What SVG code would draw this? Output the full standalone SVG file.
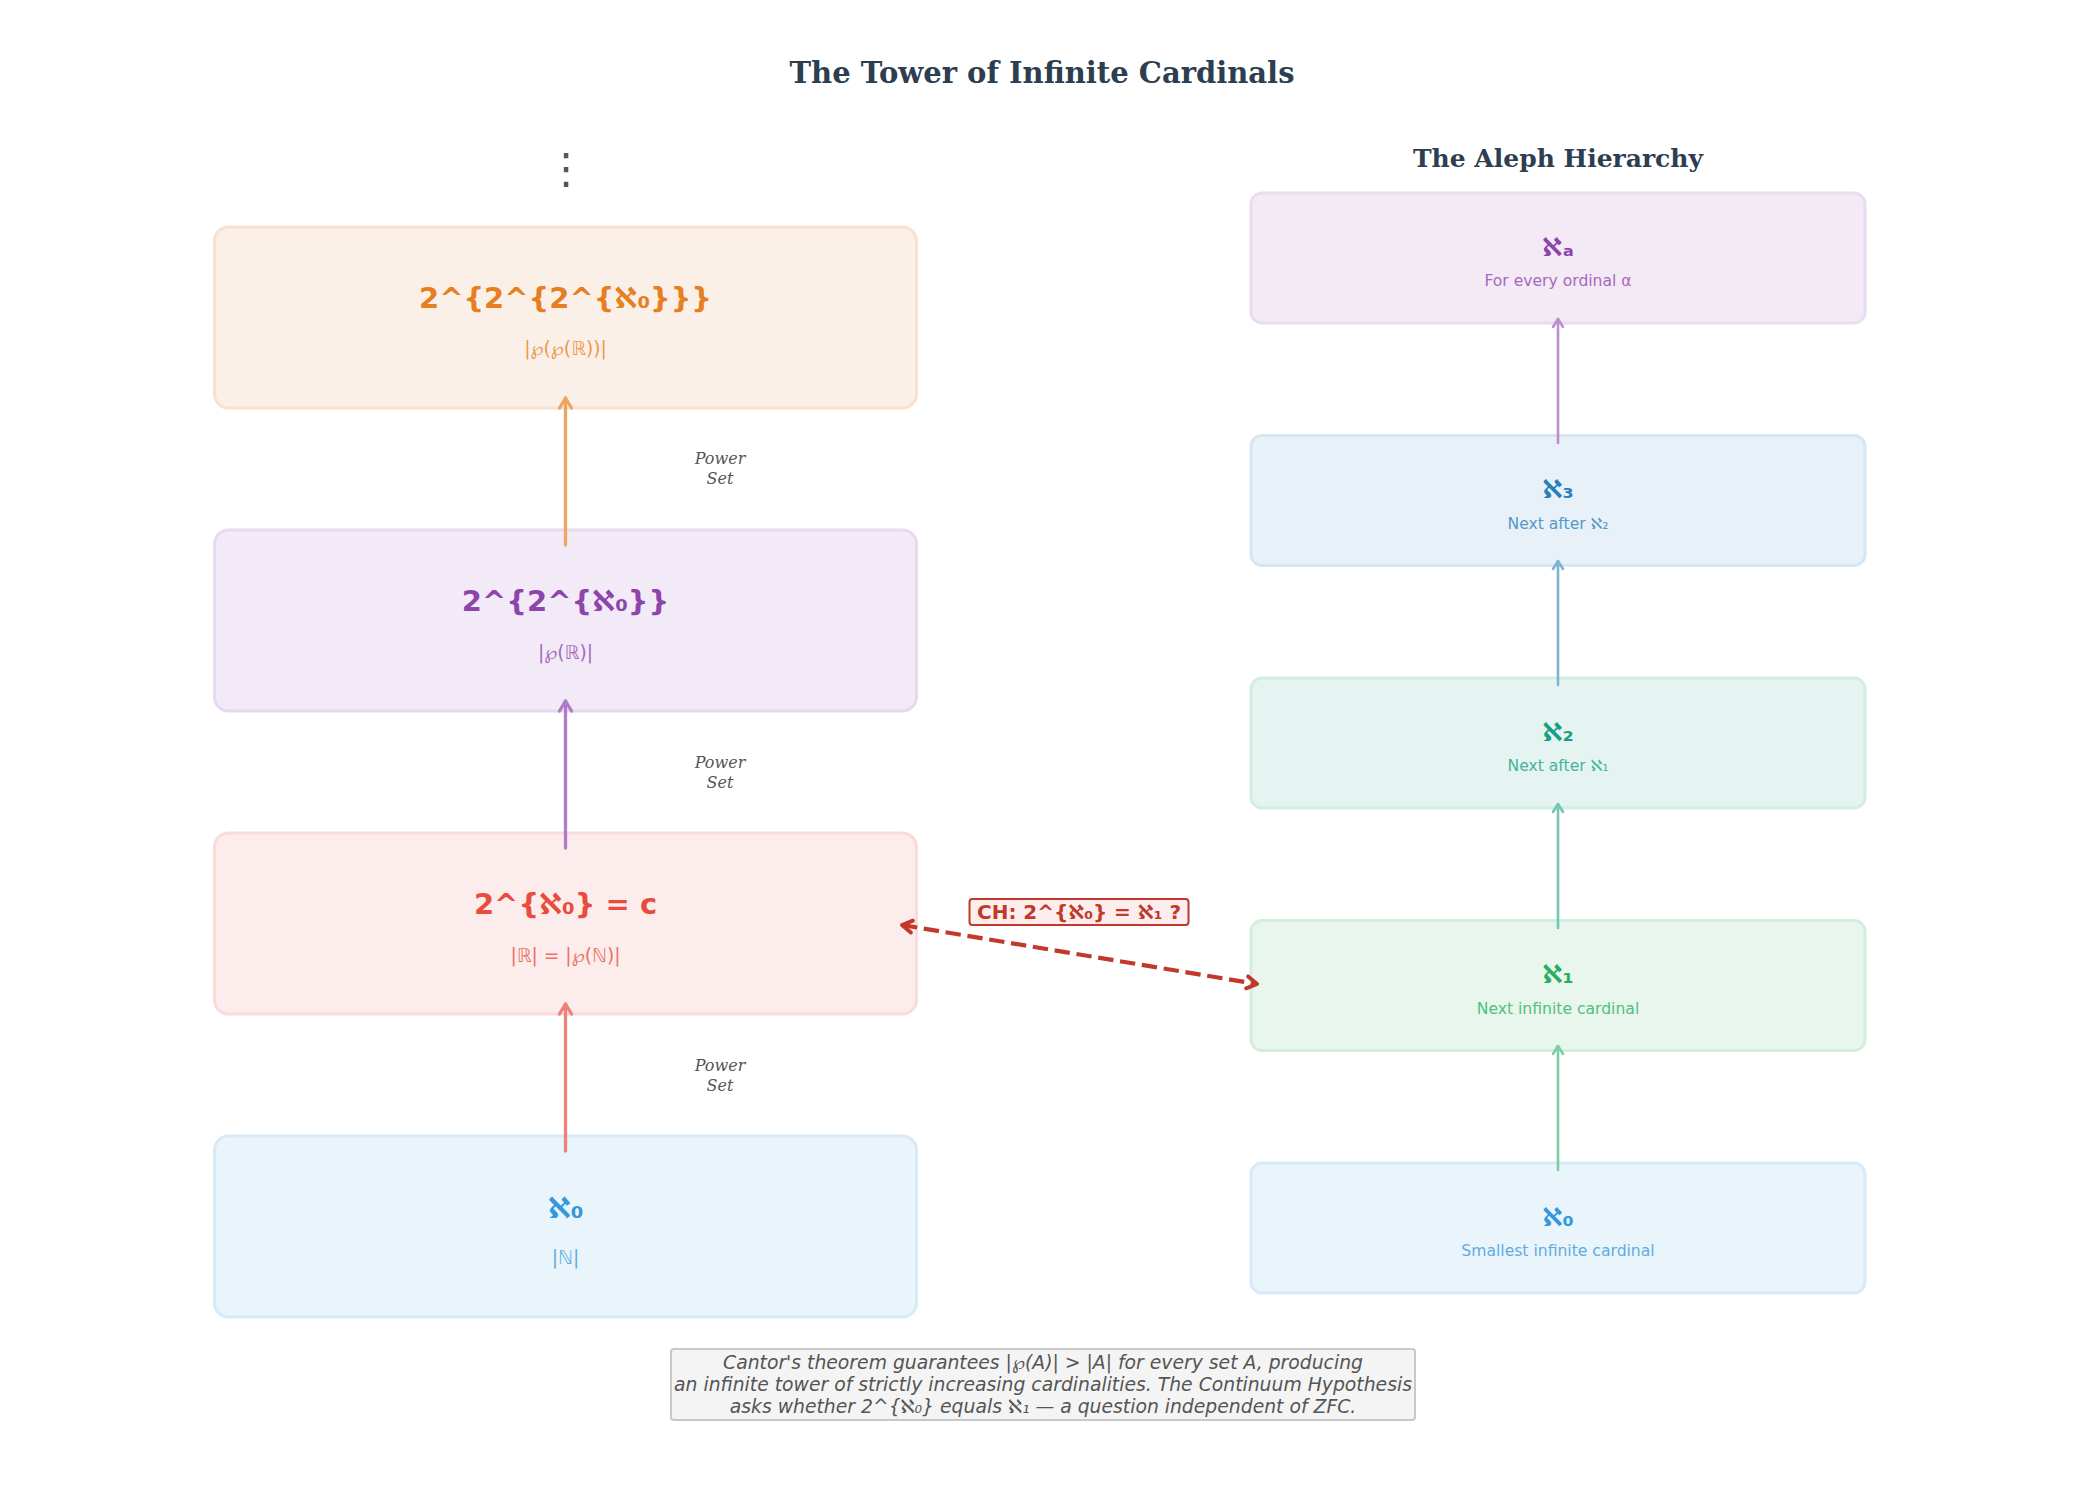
<svg xmlns="http://www.w3.org/2000/svg" width="2085" height="1485" viewBox="0 0 2085 1485">
<style>
  .title { font-family: "DejaVu Serif", "Liberation Serif", serif; font-weight: bold; fill: #2c3e50; text-anchor: middle; dominant-baseline: central; }
  .main { font-family: "DejaVu Sans", "Noto Sans", sans-serif; font-weight: bold; text-anchor: middle; dominant-baseline: central; }
  .sub { font-family: "DejaVu Sans", "Noto Sans", sans-serif; text-anchor: middle; dominant-baseline: central; }
  .lmain { font-size: 29px; }
  .lsub { font-size: 18.7px; }
  .rmain { font-size: 25.5px; }
  .rsub { font-size: 15.6px; }
  .ps { font-family: "DejaVu Serif", "Liberation Serif", serif; font-style: italic; font-size: 16px; fill: #555555; text-anchor: middle; dominant-baseline: central; }
  .cap { font-family: "DejaVu Sans", "Noto Sans", sans-serif; font-style: italic; font-size: 18.8px; fill: #555555; text-anchor: middle; dominant-baseline: central; }
  .ch { font-family: "DejaVu Sans", "Noto Sans", sans-serif; font-weight: bold; font-size: 20px; fill: #c0392b; text-anchor: middle; dominant-baseline: central; }
  .box { stroke-width: 3; }
  .la { fill: none; stroke-width: 3.3; stroke-linecap: round; }
  .ra { fill: none; stroke-width: 2.6; stroke-linecap: round; }
</style>
<defs>
  <marker id="hOr" viewBox="-14 -10 18 20" markerWidth="18" markerHeight="20" refX="0" refY="0" orient="auto" markerUnits="userSpaceOnUse"><path d="M-10,-6 L0,0 L-10,6" fill="none" stroke="#eea564" stroke-width="3.3" stroke-linecap="round" stroke-linejoin="round"/></marker>
  <marker id="hPu" viewBox="-14 -10 18 20" markerWidth="18" markerHeight="20" refX="0" refY="0" orient="auto" markerUnits="userSpaceOnUse"><path d="M-10,-6 L0,0 L-10,6" fill="none" stroke="#b07cc6" stroke-width="3.3" stroke-linecap="round" stroke-linejoin="round"/></marker>
  <marker id="hRe" viewBox="-14 -10 18 20" markerWidth="18" markerHeight="20" refX="0" refY="0" orient="auto" markerUnits="userSpaceOnUse"><path d="M-10,-6 L0,0 L-10,6" fill="none" stroke="#ee8276" stroke-width="3.3" stroke-linecap="round" stroke-linejoin="round"/></marker>
  <marker id="hGr" viewBox="-14 -10 18 20" markerWidth="18" markerHeight="20" refX="0" refY="0" orient="auto" markerUnits="userSpaceOnUse"><path d="M-8,-5 L0,0 L-8,5" fill="none" stroke="#7dcea0" stroke-width="2.6" stroke-linecap="round" stroke-linejoin="round"/></marker>
  <marker id="hTe" viewBox="-14 -10 18 20" markerWidth="18" markerHeight="20" refX="0" refY="0" orient="auto" markerUnits="userSpaceOnUse"><path d="M-8,-5 L0,0 L-8,5" fill="none" stroke="#73c6b6" stroke-width="2.6" stroke-linecap="round" stroke-linejoin="round"/></marker>
  <marker id="hBl" viewBox="-14 -10 18 20" markerWidth="18" markerHeight="20" refX="0" refY="0" orient="auto" markerUnits="userSpaceOnUse"><path d="M-8,-5 L0,0 L-8,5" fill="none" stroke="#7fb3d5" stroke-width="2.6" stroke-linecap="round" stroke-linejoin="round"/></marker>
  <marker id="hVi" viewBox="-14 -10 18 20" markerWidth="18" markerHeight="20" refX="0" refY="0" orient="auto" markerUnits="userSpaceOnUse"><path d="M-8,-5 L0,0 L-8,5" fill="none" stroke="#bb8fce" stroke-width="2.6" stroke-linecap="round" stroke-linejoin="round"/></marker>
  <marker id="hCH" viewBox="-14 -10 18 20" markerWidth="18" markerHeight="20" refX="0" refY="0" orient="auto-start-reverse" markerUnits="userSpaceOnUse"><path d="M-10,-6 L0,0 L-10,6" fill="none" stroke="#c0392b" stroke-width="4" stroke-linecap="round" stroke-linejoin="round"/></marker>
</defs>
<rect width="2085" height="1485" fill="#ffffff"/>

<text class="title" x="1042" y="73" font-size="29">The Tower of Infinite Cardinals</text>
<text class="title" x="1558" y="158" font-size="25">The Aleph Hierarchy</text>
<text x="566" y="168" font-family="DejaVu Sans, sans-serif" font-size="42" fill="#555555" text-anchor="middle" dominant-baseline="central">⋮</text>

<g id="left-2-2-2-aleph0">
  <rect class="box" x="214.5" y="227" width="702" height="181" rx="14" fill="#fbf0e7" stroke="#f9e1cd"/>
  <text class="main lmain" x="565.5" y="298" fill="#e67e22">2^{2^{2^{ℵ₀}}}</text>
  <text class="sub lsub" x="565.5" y="348" fill="#eb984e">|℘(℘(ℝ))|</text>
</g>
<g id="left-2-2-aleph0">
  <rect class="box" x="214.5" y="530" width="702" height="181" rx="14" fill="#f2eaf6" stroke="#e8d9ef"/>
  <text class="main lmain" x="565.5" y="601" fill="#8e44ad">2^{2^{ℵ₀}}</text>
  <text class="sub lsub" x="565.5" y="652" fill="#a569bd">|℘(ℝ)|</text>
</g>
<g id="left-continuum">
  <rect class="box" x="214.5" y="833" width="702" height="181" rx="14" fill="#fcecec" stroke="#f9dbd8"/>
  <text class="main lmain" x="565.5" y="904" fill="#e74c3c">2^{ℵ₀} = c</text>
  <text class="sub lsub" x="565.5" y="955" fill="#ec7063">|ℝ| = |℘(ℕ)|</text>
</g>
<g id="left-aleph0">
  <rect class="box" x="214.5" y="1136" width="702" height="181" rx="14" fill="#eaf4fb" stroke="#d8eaf8"/>
  <text class="main lmain" x="565.5" y="1208" fill="#3498db">ℵ₀</text>
  <text class="sub lsub" x="565.5" y="1257" fill="#5dade2">|ℕ|</text>
</g>

<g id="right-aleph-alpha">
  <rect class="box" x="1251" y="193" width="614" height="130" rx="11" fill="#f3eaf6" stroke="#eadcf0"/>
  <text class="main rmain" x="1558" y="246.5" fill="#8e44ad">ℵₐ</text>
  <text class="sub rsub" x="1558" y="281" fill="#a569bd">For every ordinal α</text>
</g>
<g id="right-aleph3">
  <rect class="box" x="1251" y="435.5" width="614" height="130" rx="11" fill="#e9f1f8" stroke="#d6e6f2"/>
  <text class="main rmain" x="1558" y="489" fill="#2980b9">ℵ₃</text>
  <text class="sub rsub" x="1558" y="523.5" fill="#5499c7">Next after ℵ₂</text>
</g>
<g id="right-aleph2">
  <rect class="box" x="1251" y="678" width="614" height="130" rx="11" fill="#e6f4f1" stroke="#d2ece6"/>
  <text class="main rmain" x="1558" y="731.5" fill="#16a085">ℵ₂</text>
  <text class="sub rsub" x="1558" y="766" fill="#45b39d">Next after ℵ₁</text>
</g>
<g id="right-aleph1">
  <rect class="box" x="1251" y="920.5" width="614" height="130" rx="11" fill="#e8f6ed" stroke="#d3eedd"/>
  <text class="main rmain" x="1558" y="974" fill="#27ae60">ℵ₁</text>
  <text class="sub rsub" x="1558" y="1008.5" fill="#52be80">Next infinite cardinal</text>
</g>
<g id="right-aleph0">
  <rect class="box" x="1251" y="1163" width="614" height="130" rx="11" fill="#eaf4fb" stroke="#d8eaf8"/>
  <text class="main rmain" x="1558" y="1216.5" fill="#3498db">ℵ₀</text>
  <text class="sub rsub" x="1558" y="1251" fill="#5dade2">Smallest infinite cardinal</text>
</g>

<g id="connectors">
  <line class="la" x1="565.5" y1="545" x2="565.5" y2="398" stroke="#eea564" marker-end="url(#hOr)"/>
  <line class="la" x1="565.5" y1="848" x2="565.5" y2="701" stroke="#b07cc6" marker-end="url(#hPu)"/>
  <line class="la" x1="565.5" y1="1151" x2="565.5" y2="1004" stroke="#ee8276" marker-end="url(#hRe)"/>
  <line class="ra" x1="1558" y1="1170" x2="1558" y2="1046" stroke="#7dcea0" marker-end="url(#hGr)"/>
  <line class="ra" x1="1558" y1="928" x2="1558" y2="804" stroke="#73c6b6" marker-end="url(#hTe)"/>
  <line class="ra" x1="1558" y1="685" x2="1558" y2="561" stroke="#7fb3d5" marker-end="url(#hBl)"/>
  <line class="ra" x1="1558" y1="443" x2="1558" y2="319" stroke="#bb8fce" marker-end="url(#hVi)"/>
  <line x1="902" y1="925" x2="1257" y2="984" stroke="#c0392b" stroke-width="4.2" stroke-dasharray="15.4 6.7" fill="none" marker-start="url(#hCH)" marker-end="url(#hCH)"/>
  <text class="ps" x="720"><tspan x="720" y="458">Power</tspan><tspan x="720" y="478">Set</tspan></text>
  <text class="ps" x="720"><tspan x="720" y="762">Power</tspan><tspan x="720" y="782">Set</tspan></text>
  <text class="ps" x="720"><tspan x="720" y="1065">Power</tspan><tspan x="720" y="1085">Set</tspan></text>
  <g id="ch-label">
    <rect x="969.5" y="899" width="219" height="26" rx="3" fill="#fdedec" stroke="#c0392b" stroke-width="2"/>
    <text class="ch" x="1079" y="912">CH: 2^{ℵ₀} = ℵ₁ ?</text>
  </g>
</g>

<g id="caption">
  <rect x="671" y="1349" width="744" height="71" rx="3" fill="#f4f4f4" stroke="#c8c8c8" stroke-width="2"/>
  <text class="cap" x="1043" y="1362">Cantor's theorem guarantees |℘(A)| &gt; |A| for every set A, producing</text>
  <text class="cap" x="1043" y="1384">an infinite tower of strictly increasing cardinalities. The Continuum Hypothesis</text>
  <text class="cap" x="1043" y="1406">asks whether 2^{ℵ₀} equals ℵ₁ — a question independent of ZFC.</text>
</g>
</svg>
